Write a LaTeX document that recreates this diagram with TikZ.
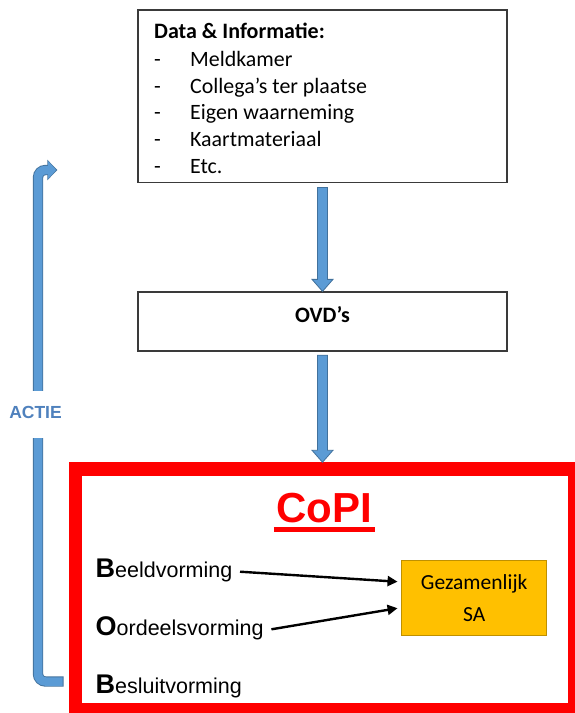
\documentclass[tikz,border=0pt]{standalone}
\usepackage{fontspec}
\setmainfont{Carlito}
\newfontfamily\arialf{Liberation Sans}
\usetikzlibrary{arrows.meta,calc}
\definecolor{bfill}{HTML}{5B9BD5}
\definecolor{bborder}{HTML}{41719C}
\definecolor{actiecol}{HTML}{4F81BD}
\definecolor{gezfill}{HTML}{FFC000}
\definecolor{gezborder}{HTML}{BF9000}
\definecolor{boxline}{HTML}{3A3A3A}
\newcommand\blockarrow[2]{%
  \path[fill=bfill,draw=bborder,line width=0.8pt] let \p1=(#1), \p2=(#2) in
    (\x1-5pt,\y1) -- (\x1+5pt,\y1) -- (\x1+5pt,\y2+12pt) -- (\x1+10.5pt,\y2+12pt)
    -- (\x1,\y2) -- (\x1-10.5pt,\y2+12pt) -- (\x1-5pt,\y2+12pt) -- cycle;}
\tikzset{
  infobox/.style={draw=boxline,line width=1.3pt,fill=white,inner sep=0pt},
  txt/.style={anchor=base west,inner sep=0pt,font=\fontsize{21.9}{26}\selectfont},
  bobtxt/.style={anchor=base west,inner sep=0pt,font=\arialf\fontsize{21.5}{26}\selectfont},
  blackarrow/.style={line width=2.4pt,-{Triangle[length=10pt,width=10pt]}},
}
\newcommand\bigletter[1]{{\bfseries\fontsize{27}{27}\selectfont #1}}
\begin{document}
\begin{tikzpicture}[x=1pt,y=-1pt]
\clip (0,0) rectangle (575,713);
\fill[white] (0,0) rectangle (575,713);

% top information box
\node[infobox,minimum width=369pt,minimum height=172.3pt] (data) at (322.5,96.2) {};
\node[txt,font=\bfseries\fontsize{22}{26}\selectfont] (title) at (154,38.3) {Data \& Informatie:};
\foreach \t [count=\i] in {Meldkamer,Collega’s ter plaatse,Eigen waarneming,Kaartmateriaal,Etc.}{
  \node[txt] (dash\i) at (154,{40+26.65*\i}) {-};
  \node[txt] (item\i) at (190,{40+26.65*\i}) {\t};
}

% OVD box
\node[infobox,minimum width=369pt,minimum height=59pt] (ovd) at (322.5,321.5) {};
\node[anchor=base,inner sep=0pt,font=\bfseries\fontsize{22}{26}\selectfont] (ovdtxt) at (322.5,322) {OVD’s};

% CoPI box
\node[draw=red,line width=13.5pt,minimum width=499.2pt,minimum height=241pt,inner sep=0pt] (copibox) at (325.1,589.5) {};
\node[anchor=base,inner sep=0pt,text=red,font=\arialf\bfseries\fontsize{42}{42}\selectfont] (copi) at (324.5,522.7) {CoPI};
\draw[red,line width=5.5pt] ([xshift=-2.5pt,yshift=-7pt]copi.base west) -- ([xshift=2.5pt,yshift=-7pt]copi.base east);

% block arrows
\coordinate (a1s) at ($(data.south)+(0,4.5)$);
\coordinate (a2s) at ($(ovd.south)+(0,3.5)$);
\blockarrow{a1s}{ovd.north}
\blockarrow{a2s}{copibox.north}

% BOB texts
\node[bobtxt] (bv) at (95.5,577.7) {\bigletter{B}eeldvorming};
\node[bobtxt] (ov) at (95.5,635) {\bigletter{O}ordeelsvorming};
\node[bobtxt] (bs) at (95.5,693.3) {\bigletter{B}esluitvorming};

% Gezamenlijk SA
\node[draw=gezborder,fill=gezfill,line width=1.3pt,minimum width=145pt,minimum height=75pt,
      align=center,inner sep=0pt,font=\fontsize{21.5}{32.7}\selectfont] (gez) at (474.2,598.2) {Gezamenlijk\\SA};

\draw[blackarrow] ($(bv.base east)+(7.5,-6)$) -- ($(gez.west)+(-3.5,-16.5)$);
\draw[blackarrow] ($(ov.base east)+(7.5,-5.7)$) -- ($(gez.west)+(-3.5,10)$);

% ACTIE feedback arrow
\coordinate (actstart) at (63.5,681.5);
\coordinate (actend) at (57.3,170);
\draw[bborder,line width=10.3pt,rounded corners=7.5pt,-{Triangle[length=10pt,width=20pt]}]
  (actstart) -- (38,681.5) -- (38,170) -- (actend);
\draw[bfill,line width=8.5pt,rounded corners=7.5pt,-{Triangle[length=8.2pt,width=17.4pt]},shorten >=1.1pt,shorten <=0.8pt]
  (actstart) -- (38,681.5) -- (38,170) -- (actend);
\node[fill=white,inner sep=0pt,minimum height=47pt,text=actiecol,font=\arialf\bfseries\fontsize{17.5}{20}\selectfont] (actie) at (35.5,414) {\raisebox{4pt}{ACTIE}};
\end{tikzpicture}
\end{document}
